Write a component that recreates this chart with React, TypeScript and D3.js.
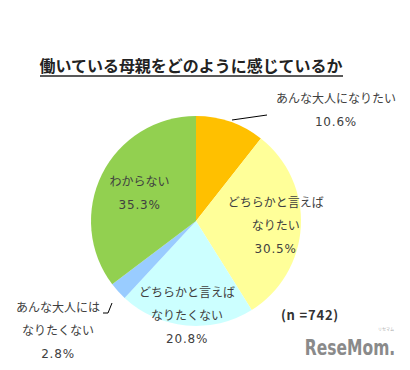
import React from "react";
import * as d3 from "d3";

const title = "働いている母親をどのように感じているか";
const categories = ["あんな大人になりたい", "どちらかと言えばなりたい", "どちらかと言えばなりたくない", "あんな大人にはなりたくない", "わからない"];
const labelLines = [
  ["あんな大人になりたい"],
  ["どちらかと言えば", "なりたい"],
  ["どちらかと言えば", "なりたくない"],
  ["あんな大人には", "なりたくない"],
  ["わからない"],
];
const values = [10.6, 30.5, 20.8, 2.8, 35.3];
const colors = ["#FFC000", "#FFFF99", "#CCFFFF", "#99CCFF", "#92D050"];
const sampleNote = "(n =742)";

export default function App() {
  const W = 410, H = 370;
  const cx = 196, cy = 221, R = 105;
  const pie = d3.pie<number>().sort(null).value((d) => d)(values);
  const arc = d3.arc<d3.PieArcDatum<number>>().innerRadius(0).outerRadius(R);
  const font = "'Noto Sans CJK JP', 'Noto Sans', sans-serif";
  const numFont = "'DejaVu Sans', sans-serif";
  const txt = "#404040";
  const lh = 23;

  const inside: Record<number, number> = { 1: 0.76, 2: 0.9, 4: 0.6 };

  const labels = pie.map((p, i) => {
    const lines = [...labelLines[i], values[i].toFixed(1) + "%"];
    let x: number, y: number;
    if (i in inside) {
      const a = (p.startAngle + p.endAngle) / 2;
      const r = R * inside[i];
      x = cx + r * Math.sin(a);
      y = cy - r * Math.cos(a);
    } else if (i === 0) {
      x = 336; y = 110;
    } else {
      x = 58; y = 330;
    }
    const n = lines.length;
    const y0 = y - ((n - 1) * lh) / 2;
    return (
      <text key={i} x={x} textAnchor="middle" fontFamily={font} fontSize={12} fill={txt}>
        {lines.map((l, j) => (
          <tspan key={j} x={x} y={y0 + j * lh + 4.5}
            fontFamily={j === n - 1 ? numFont : font}
            letterSpacing={j === n - 1 ? 0.8 : 0}>{l}</tspan>
        ))}
      </text>
    );
  });

  return (
    <svg width={W} height={H} style={{ position: "absolute", left: 0, top: 0, background: "#fff" }}>
      <rect width={W} height={H} fill="#fff" />
      <text x={191} y={72} textAnchor="middle" fontFamily={font} fontWeight="bold" fontSize={16} fill="#222" textLength={303} lengthAdjust="spacingAndGlyphs">{title}</text>
      <line x1={40} x2={343} y1={76} y2={76} stroke="#222" strokeWidth={1.3} />
      <g transform={`translate(${cx},${cy})`}>
        {pie.map((p, i) => (
          <path key={categories[i]} d={arc(p) || ""} fill={colors[i]} />
        ))}
      </g>
      <polyline points="232,120 267,115" fill="none" stroke="#000" strokeWidth={1} />
      <polyline points="103,313 108,313 112,303" fill="none" stroke="#000" strokeWidth={1} />
      {labels}
      <text x={310} y={320} textAnchor="middle" fontFamily={font} fontWeight="bold" fontSize={13} fill="#333" letterSpacing={0.8}>{sampleNote}</text>
      <g transform="translate(350,355) scale(0.74,1)">
        <text x={0} y={0} textAnchor="middle" fontFamily="'DejaVu Sans', sans-serif" fontWeight="bold" fontSize={21} fill="#8a8a8a">ReseMom.</text>
      </g>
      <text x={386} y={331} textAnchor="middle" fontFamily={font} fontSize={4} fill="#aaa">リセマム</text>
    </svg>
  );
}
